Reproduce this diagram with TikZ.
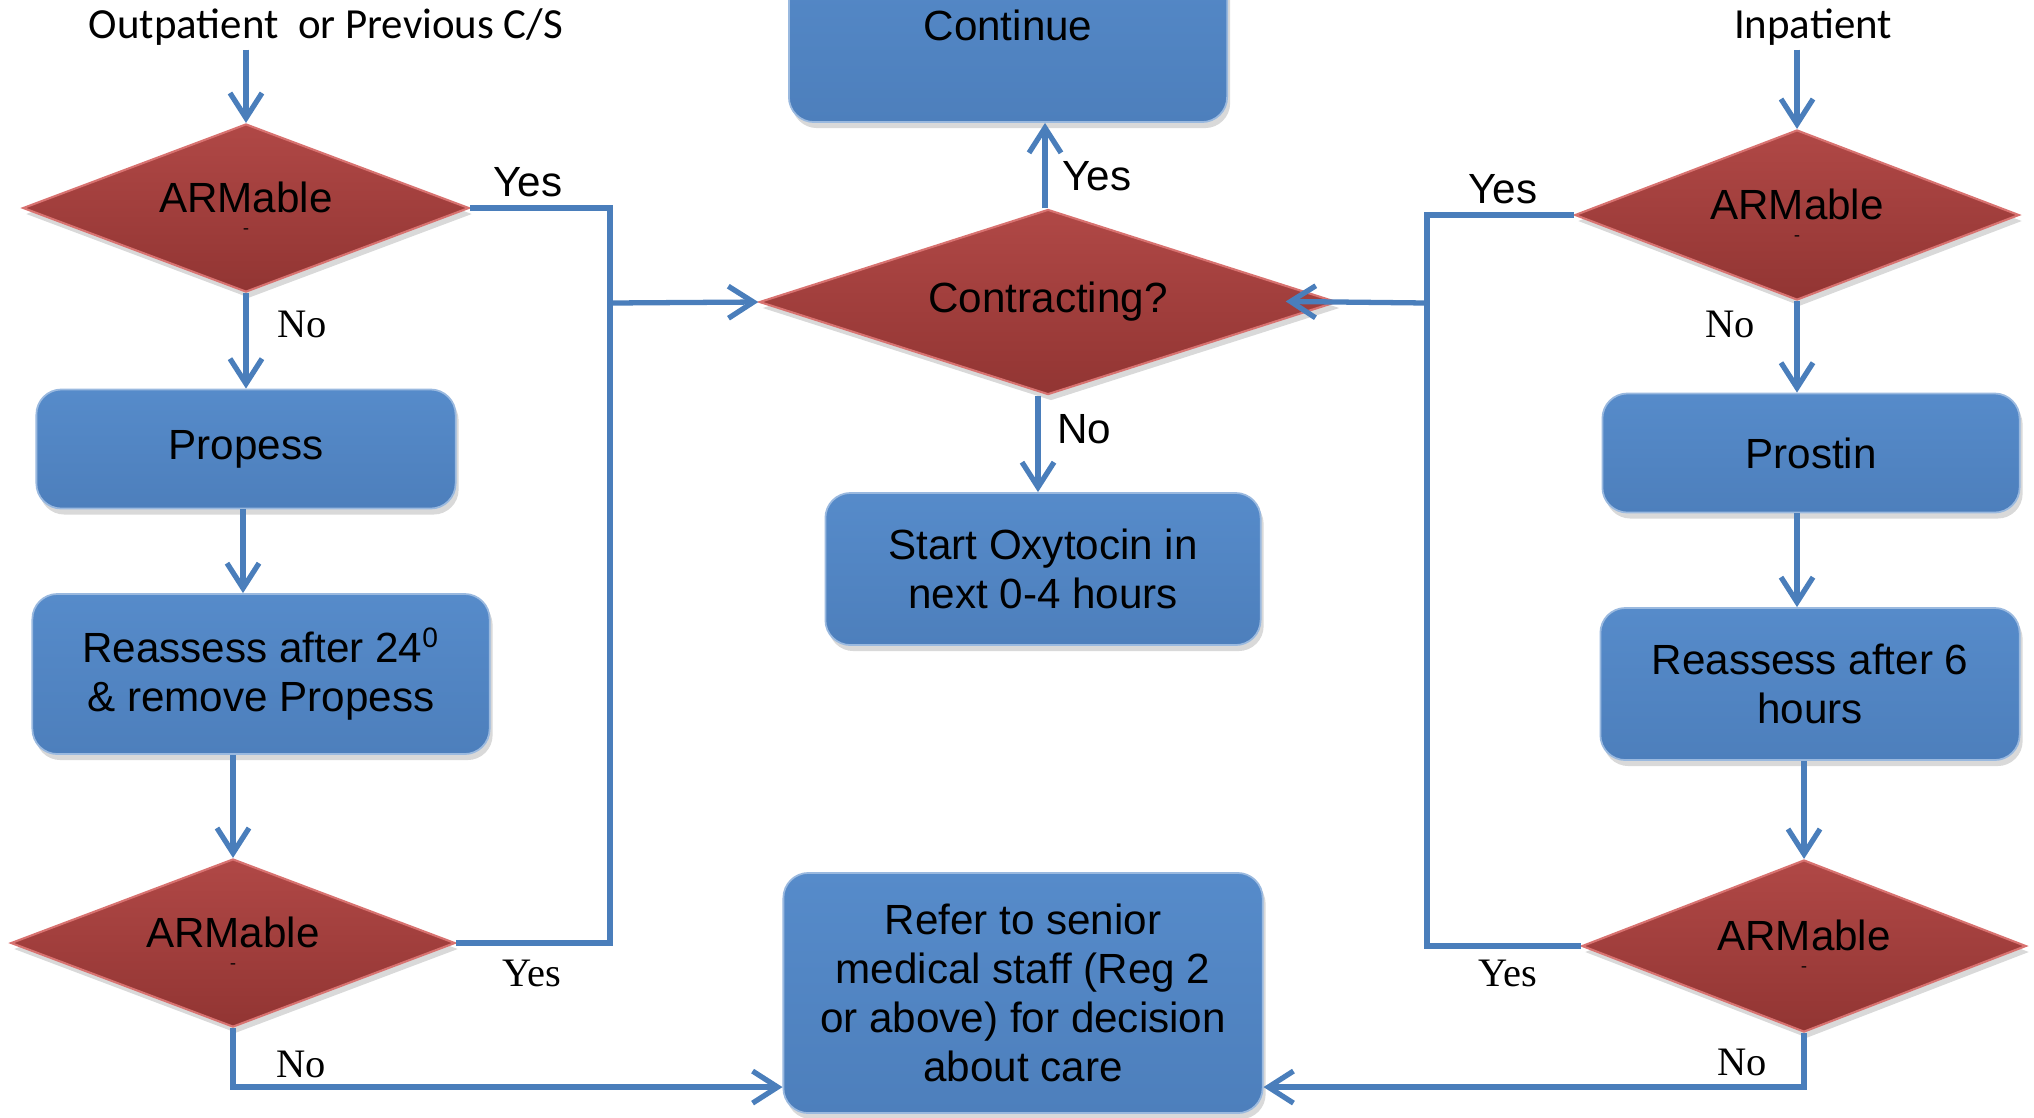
\documentclass[tikz,border=0pt]{standalone}
\usepackage{fontspec}
\setmainfont{Liberation Sans}
\newfontfamily\timesfont{Liberation Serif}
\newfontfamily\calfont{Carlito}
\usetikzlibrary{arrows.meta,positioning,shapes.geometric,shadows}
\definecolor{flowblue}{RGB}{74,126,187}
\definecolor{boxblue}{RGB}{77,127,188}
\definecolor{boxtop}{RGB}{86,139,202}
\definecolor{armred}{RGB}{146,53,51}
\definecolor{armtop}{RGB}{176,72,70}
\definecolor{armedge}{RGB}{216,114,112}

\begin{document}
\begin{tikzpicture}[x=0.01cm,y=-0.01cm,
  line/.style={draw=flowblue,line width=1.5pt},
  arr/.style={line,-{Straight Barb[length=0.25cm,width=0.32cm]}},
  box/.style={rectangle,rounded corners=0.25cm,top color=boxtop,bottom color=boxblue,
    draw=boxtop!60!white,line width=0.5pt,align=center,font=\fontsize{12}{14}\selectfont,
    drop shadow={opacity=0.3,shadow xshift=0.03cm,shadow yshift=-0.06cm}},
  armable/.style={diamond,aspect=2.6,inner sep=0pt,top color=armtop,bottom color=armred,
    draw=armedge,line width=0.6pt,align=center,font=\fontsize{12}{14}\selectfont,
    drop shadow={opacity=0.3,shadow xshift=0.03cm,shadow yshift=-0.06cm}},
  yn/.style={font=\fontsize{12}{14}\selectfont},
  ynt/.style={font=\timesfont\fontsize{11.5}{13}\selectfont},
  head/.style={inner sep=1pt,font=\calfont\fontsize{12.2}{14}\selectfont}]
\useasboundingbox (0,0) rectangle (2034,1117);

% entry points
\node[head] (outpat) at (326,27) {Outpatient\ \ or Previous C/S};
\node[head] (inpat) at (1813,27) {Inpatient};

% left column
\node[armable,minimum width=4.46cm,minimum height=1.68cm] (armA) at (246,208) {ARMable\\[-8pt]{\timesfont\tiny -}};
\node[box,minimum width=4.19cm,minimum height=1.19cm] (propess) at (246,449) {Propess};
\node[box,minimum width=4.57cm,minimum height=1.6cm] (reassA) at (261,674) {Reassess after 24\textsuperscript{0}\\\& remove Propess};
\node[armable,minimum width=4.44cm,minimum height=1.68cm] (armB) at (233,943) {ARMable\\[-8pt]{\timesfont\tiny -}};

% middle column
\node[box,minimum width=4.38cm,minimum height=1.94cm] (cont) at (1008,25) {Continue};
\node[armable,aspect=3.1,minimum width=5.77cm,minimum height=1.85cm] (contr) at (1048,302) {Contracting?};
\node[box,minimum width=4.35cm,minimum height=1.52cm] (oxy) at (1043,569) {Start Oxytocin in\\next 0-4 hours};
\node[box,minimum width=4.79cm,minimum height=2.4cm] (refer) at (1023,993) {Refer to senior\\medical staff (Reg 2\\or above) for decision\\about care};

% right column
\node[armable,minimum width=4.44cm,minimum height=1.7cm] (armC) at (1797,215) {ARMable\\[-8pt]{\timesfont\tiny -}};
\node[box,minimum width=4.17cm,minimum height=1.19cm] (prostin) at (1811,453) {Prostin};
\node[box,minimum width=4.19cm,minimum height=1.52cm] (reassB) at (1810,684) {Reassess after 6\\hours};
\node[armable,minimum width=4.44cm,minimum height=1.72cm] (armD) at (1804,946) {ARMable\\[-8pt]{\timesfont\tiny -}};

\coordinate (joinL) at (610,303);
\coordinate (joinR) at (1427,303);

% connectors
\draw[arr] (outpat.south -| armA.north) -- (armA.north);
\draw[arr] (armA.south) -- (propess.north);
\draw[arr] (propess.south -| 243,0) -- (243,0 |- reassA.north);
\draw[arr] (reassA.south -| armB.north) -- (armB.north);
\draw[line] (armA.east) -| (joinL) |- (armB.east);
\draw[arr] (joinL) -- (contr.west);
\draw[arr] (armB.south) |- ([yshift=-0.94cm]refer.west);

\draw[arr] (contr.north -| 1045,0) -- (1045,0 |- cont.south);
\draw[arr] (contr.south -| 1038,0) -- (1038,0 |- oxy.north);

\draw[arr] (inpat.south -| armC.north) -- (armC.north);
\draw[arr] (armC.south) -- (armC.south |- prostin.north);
\draw[arr] (prostin.south -| armC.south) -- (armC.south |- reassB.north);
\draw[arr] (reassB.south -| armD.north) -- (armD.north);
\draw[line] (armC.west) -| (joinR) |- (armD.west);
\draw[arr,shorten >=-0.52cm] (joinR) -- (contr.east);
\draw[arr] (armD.south) |- ([yshift=-0.94cm]refer.east);

% branch labels
\node[yn] (yesA) at (528,182) {Yes};
\node[ynt] (noA) at (302,324) {No};
\node[ynt] (yesB) at (532,973) {Yes};
\node[ynt] (noB) at (301,1064) {No};
\node[yn] (yesC) at (1097,176) {Yes};
\node[yn] (noC) at (1084,429) {No};
\node[yn] (yesD) at (1503,189) {Yes};
\node[ynt] (noD) at (1730,324) {No};
\node[ynt] (yesE) at (1508,973) {Yes};
\node[ynt] (noE) at (1742,1062) {No};
\end{tikzpicture}
\end{document}
